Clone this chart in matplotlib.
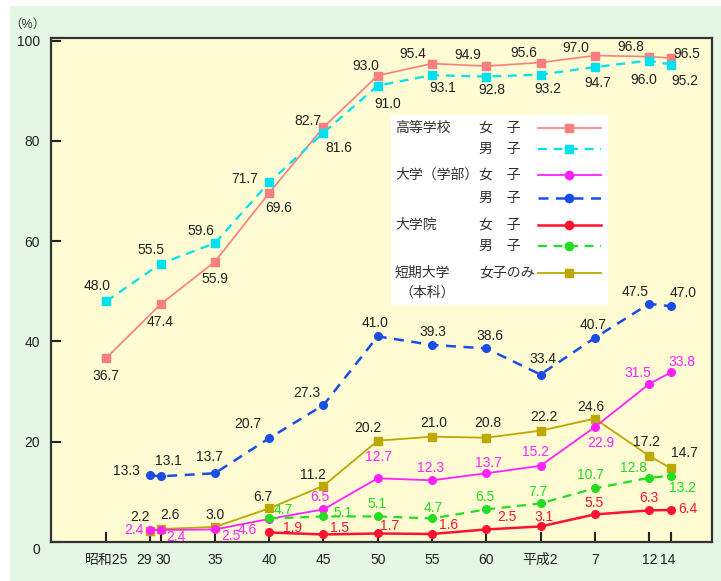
import matplotlib.pyplot as plt
from matplotlib.lines import Line2D
from matplotlib.patches import Rectangle
from matplotlib.transforms import Affine2D

plt.rcParams['font.family'] = ['Liberation Sans', 'Noto Sans CJK JP']

# x positions are western years; ticks labelled in Japanese eras
tick_years = [1950, 1954, 1955, 1960, 1965, 1970, 1975, 1980, 1985, 1990, 1995, 2000, 2002]
tick_labels = ['昭和25', '29', '30', '35', '40', '45', '50', '55', '60', '平成2', '7', '12', '14']

years_hs = [1950, 1955, 1960, 1965, 1970, 1975, 1980, 1985, 1990, 1995, 2000, 2002]
hs_female = [36.7, 47.4, 55.9, 69.6, 82.7, 93.0, 95.4, 94.9, 95.6, 97.0, 96.8, 96.5]
hs_male = [48.0, 55.5, 59.6, 71.7, 81.6, 91.0, 93.1, 92.8, 93.2, 94.7, 96.0, 95.2]

years_univ = [1954, 1955, 1960, 1965, 1970, 1975, 1980, 1985, 1990, 1995, 2000, 2002]
univ_female = [2.4, 2.4, 2.5, 4.6, 6.5, 12.7, 12.3, 13.7, 15.2, 22.9, 31.5, 33.8]
univ_male = [13.3, 13.1, 13.7, 20.7, 27.3, 41.0, 39.3, 38.6, 33.4, 40.7, 47.5, 47.0]
junior_female = [2.2, 2.6, 3.0, 6.7, 11.2, 20.2, 21.0, 20.8, 22.2, 24.6, 17.2, 14.7]

years_grad = [1965, 1970, 1975, 1980, 1985, 1990, 1995, 2000, 2002]
grad_female = [1.9, 1.5, 1.7, 1.6, 2.5, 3.1, 5.5, 6.3, 6.4]
grad_male = [4.7, 5.1, 5.1, 4.7, 6.5, 7.7, 10.7, 12.8, 13.2]

# label offsets in pixels (dx, dy) for each point
off_hs_f = [(0, -18), (0, -18), (0, -17), (10, -15), (-15, 6), (-12, 10), (-19, 10),
            (-18, 11), (-17, 10), (-19, 8), (-18, 10), (16, 4)]
off_hs_m = [(-9, 15), (-10, 14), (-14, 12), (-24, 3), (15, -15), (10, -18), (11, -13),
            (6, -13), (7, -14), (3, -16), (-5, -19), (14, -16)]
off_univ_m = [(-23, 4), (8, 15), (-5, 16), (-21, 14), (-17, 12), (-3, 13), (1, 13),
              (4, 12), (2, 16), (-2, 13), (-14, 12), (12, 13)]
off_univ_f = [(-16, 0), (15, -7), (16, -7), (-22, -11), (-4, 12), (1, 21), (-1, 12),
              (2, 10), (-5, 14), (6, -16), (-11, 11), (11, 10)]
off_junior = [(-10, 14), (9, 14), (0, 12), (-6, 11), (-10, 11), (-10, 13), (2, 14),
              (2, 15), (3, 14), (-4, 12), (-3, 14), (14, 15)]
off_grad_m = [(14, 8), (20, 3), (-1, 12), (1, 10), (-1, 12), (-3, 11), (-4, 13),
              (-16, 10), (12, -12)]
off_grad_f = [(23, 4), (16, 6), (12, 7), (17, 9), (21, 12), (3, 9), (-1, 11), (0, 12), (17, 1)]

W, H = 721, 581
fig = plt.figure(figsize=(W / 100, H / 100), dpi=100, facecolor='white')
fig.add_artist(Rectangle((10 / W, 0), 1, 1 - 6 / H, transform=fig.transFigure,
                         facecolor='#e4f7e4', edgecolor='none', zorder=-10))
ax = fig.add_axes([51 / W, 1 - 542 / H, (712 - 51) / W, (542 - 38) / H])
ax.set_facecolor('#fffbd2')
ax.set_xlim(1944.9, 2005.8)
ax.set_ylim(0, 100.5)

series = [
    (years_hs, hs_female, off_hs_f, '#f77f7f', '-', 's', 1.2, '#222222'),
    (years_hs, hs_male, off_hs_m, '#00e0f0', '--', 's', 1.6, '#222222'),
    (years_univ, univ_male, off_univ_m, '#1a4de6', '--', 'o', 1.8, '#222222'),
    (years_univ, junior_female, off_junior, '#bca800', '-', 's', 1.3, '#222222'),
    (years_univ, univ_female, off_univ_f, '#ff22ff', '-', 'o', 1.3, '#ff22ff'),
    (years_grad, grad_male, off_grad_m, '#22dd22', '--', 'o', 1.6, '#22dd22'),
    (years_grad, grad_female, off_grad_f, '#ff1133', '-', 'o', 1.8, '#ff1133'),
]
for xs, ys, offs, color, ls, mk, lw, tcol in series:
    ax.plot(xs, ys, color=color, linestyle=ls, linewidth=lw, marker=mk,
            markersize=5.5, dashes=(4, 3) if ls == '--' else (None, None))
    for x, y, (dx, dy) in zip(xs, ys, offs):
        ax.annotate(f'{y:.1f}', (x, y), xytext=(dx, dy), textcoords='offset pixels',
                    ha='center', va='center', fontsize=10, color=tcol)

ax.set_xticks(tick_years)
ax.set_xticklabels(tick_labels)
ax.set_yticks([0, 20, 40, 60, 80, 100])
ax.tick_params(axis='both', direction='in', length=7, width=1.5, labelsize=10,
               colors='#222222', pad=8)
# nudge crowded tick labels apart, as in the original
xl = ax.get_xticklabels()
xl[1].set_transform(xl[1].get_transform() + Affine2D().translate(-6, 0))
xl[2].set_transform(xl[2].get_transform() + Affine2D().translate(3, 0))
xl[11].set_transform(xl[11].get_transform() + Affine2D().translate(1, 0))
xl[12].set_transform(xl[12].get_transform() + Affine2D().translate(-3, 0))
yl = ax.get_yticklabels()
yl[0].set_transform(yl[0].get_transform() + Affine2D().translate(0, -7))
for s in ax.spines.values():
    s.set_color('#333333')
    s.set_linewidth(1.6)
fig.text(27 / W, 1 - 25 / H, '（%）', ha='center', va='center', fontsize=9, color='#333333')

# hand-built legend in pixel positions
def fx(px):
    return px / W


def fy(py):
    return 1 - py / H


fig.add_artist(Rectangle((fx(391), fy(305)), (608 - 391) / W, (305 - 115) / H,
                         transform=fig.transFigure, facecolor='white', edgecolor='none',
                         zorder=5))
legend_rows = [
    ('高等学校', '女　子', 128, '#f77f7f', '-', 's', 1.2),
    ('', '男　子', 149, '#00e0f0', '--', 's', 1.6),
    ('大学（学部）', '女　子', 175, '#ff22ff', '-', 'o', 1.3),
    ('', '男　子', 198, '#1a4de6', '--', 'o', 1.8),
    ('大学院', '女　子', 225, '#ff1133', '-', 'o', 1.8),
    ('', '男　子', 246, '#22dd22', '--', 'o', 1.6),
    ('短期大学', '女子のみ', 273, '#bca800', '-', 's', 1.3),
]
for group, sex, py, color, ls, mk, lw in legend_rows:
    if group:
        fig.text(fx(395), fy(py), group, ha='left', va='center', fontsize=10,
                 color='#333333', zorder=6)
    fig.text(fx(479), fy(py), sex, ha='left', va='center', fontsize=10,
             color='#333333', zorder=6)
    fig.add_artist(Line2D([fx(538), fx(601)], [fy(py), fy(py)], color=color,
                          linestyle=ls, linewidth=lw, transform=fig.transFigure,
                          dashes=(4, 3) if ls == '--' else (None, None), zorder=6))
    fig.add_artist(Line2D([fx(569)], [fy(py)], color=color, marker=mk, markersize=6,
                          transform=fig.transFigure, zorder=7))
fig.text(fx(399), fy(293), '（本科）', ha='left', va='center', fontsize=10,
         color='#333333', zorder=6)

fig.savefig('out.png', dpi=100, facecolor=fig.get_facecolor())
